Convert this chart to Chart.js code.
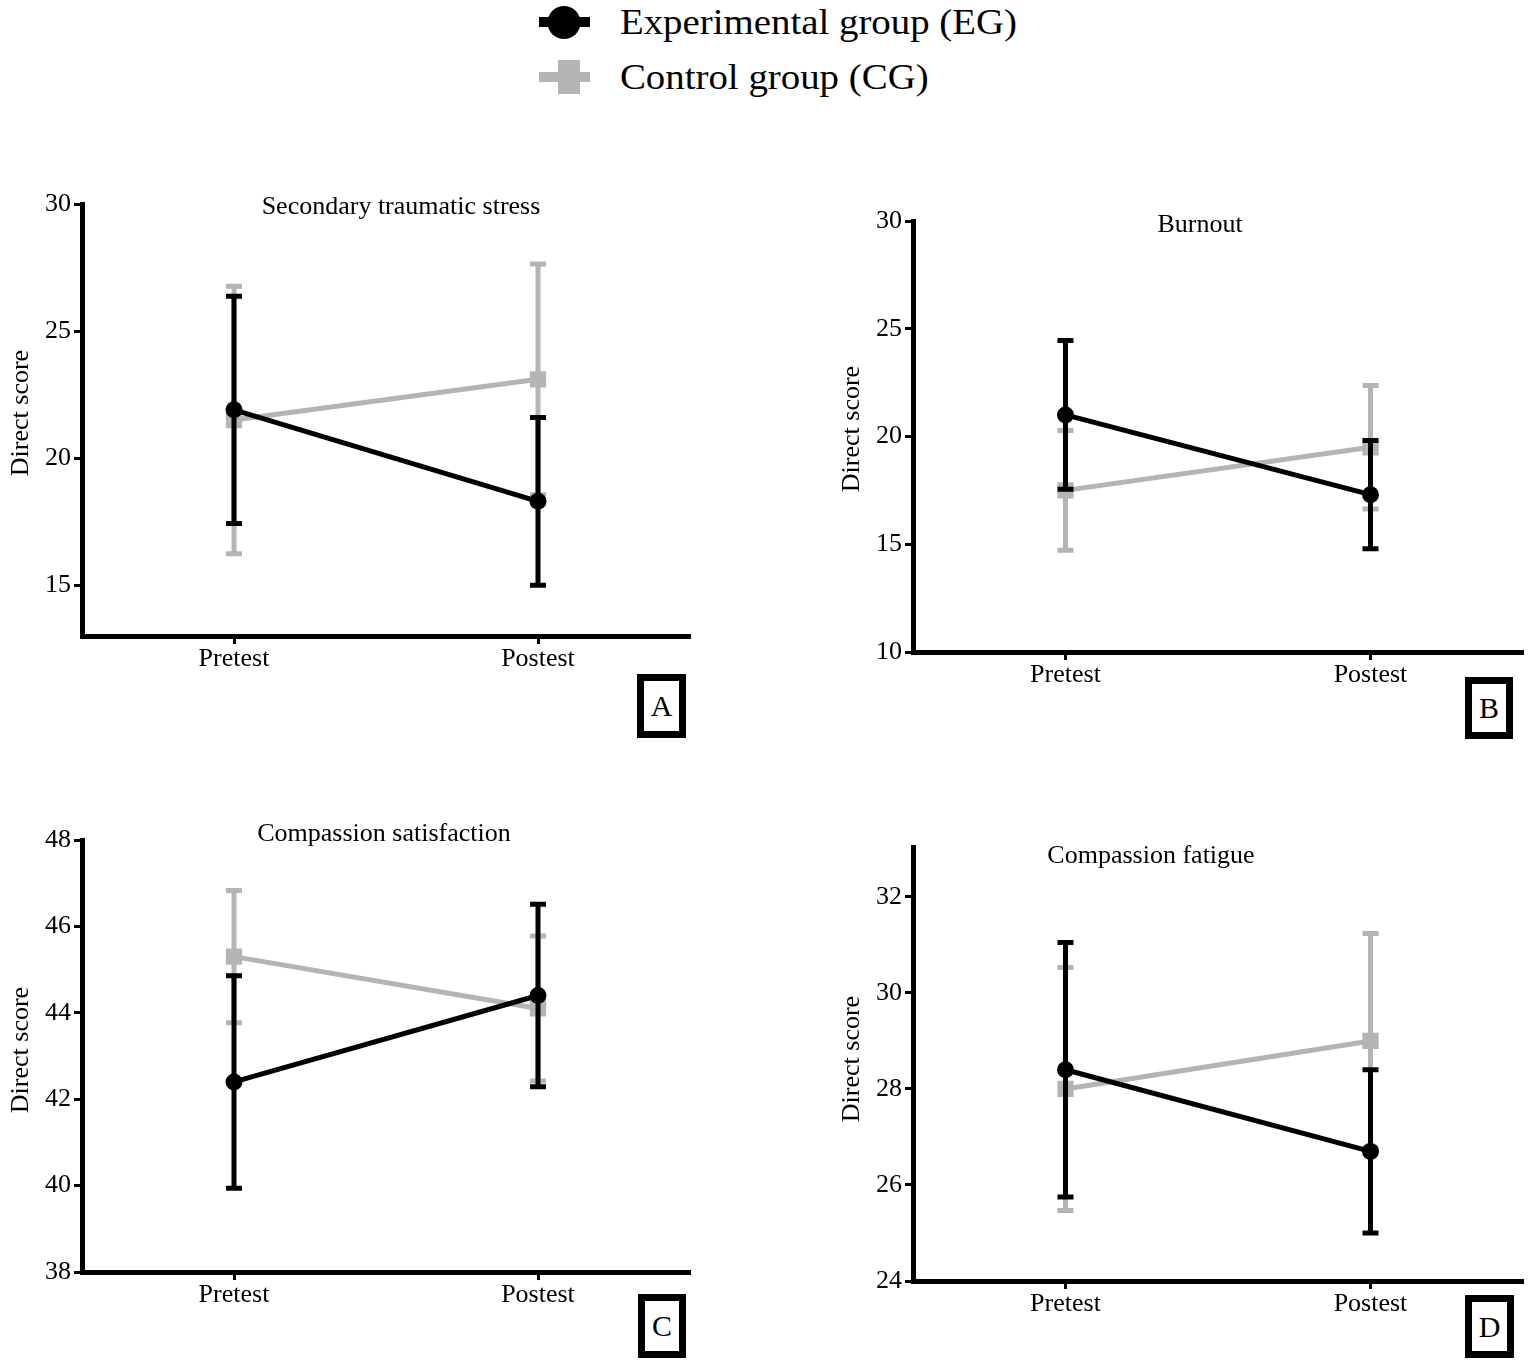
<!DOCTYPE html>
<html>
<head>
<meta charset="utf-8">
<script src="https://cdn.jsdelivr.net/npm/chart.js@4.4.1/dist/chart.umd.min.js"></script>
<style>
html,body{margin:0;padding:0;background:#fff;}
body{width:1535px;height:1369px;position:relative;overflow:hidden;font-family:"Liberation Serif","Times New Roman",serif;}
.cv{position:absolute;}
.tag{position:absolute;box-sizing:border-box;border:7px solid #000;background:#fff;font-size:30px;line-height:1;display:flex;align-items:center;justify-content:center;color:#000;}
#legend{position:absolute;left:0;top:0;}
</style>
</head>
<body>
<svg id="legend" width="1535" height="110" xmlns="http://www.w3.org/2000/svg">
  <rect x="539" y="17" width="51" height="10" fill="#000"/>
  <circle cx="564" cy="22.5" r="16.5" fill="#000"/>
  <rect x="539" y="72" width="51" height="10" fill="#b4b4b4"/>
  <rect x="558" y="60" width="22" height="34" fill="#b4b4b4"/>
  <g transform="scale(1.08,1)" font-family="Liberation Serif, Times New Roman, serif" font-size="36" fill="#000">
    <text id="lg0" x="574" y="34"></text>
    <text id="lg1" x="574" y="89"></text>
  </g>
</svg>

<div class="cv" style="left:0;top:180px;"><canvas id="cA" width="730" height="500"></canvas></div>
<div class="cv" style="left:830px;top:195px;"><canvas id="cB" width="705" height="500"></canvas></div>
<div class="cv" style="left:0;top:810px;"><canvas id="cC" width="730" height="505"></canvas></div>
<div class="cv" style="left:830px;top:820px;"><canvas id="cD" width="705" height="505"></canvas></div>

<div class="tag" style="left:637px;top:674px;width:49px;height:64px;">A</div>
<div class="tag" style="left:1465px;top:677px;width:48px;height:62px;">B</div>
<div class="tag" style="left:638px;top:1294px;width:48px;height:64px;">C</div>
<div class="tag" style="left:1465px;top:1295px;width:49px;height:63px;">D</div>

<script>
// ---------- data ----------
const timeLabels = ['Pretest', 'Postest'];
const seriesNames = ['Experimental group (EG)', 'Control group (CG)'];
const yAxisTitle = 'Direct score';

// A: Secondary traumatic stress
const stsTitle = 'Secondary traumatic stress';
const stsEG = [21.9, 18.3];
const stsEGsd = [4.47, 3.3];
const stsCG = [21.5, 23.1];
const stsCGsd = [5.26, 4.54];
const stsTicks = [15, 20, 25, 30];

// B: Burnout
const boTitle = 'Burnout';
const boEG = [21.0, 17.3];
const boEGsd = [3.45, 2.51];
const boCG = [17.5, 19.5];
const boCGsd = [2.78, 2.87];
const boTicks = [10, 15, 20, 25, 30];

// C: Compassion satisfaction
const csTitle = 'Compassion satisfaction';
const csEG = [42.4, 44.4];
const csEGsd = [2.46, 2.11];
const csCG = [45.3, 44.1];
const csCGsd = [1.53, 1.68];
const csTicks = [38, 40, 42, 44, 46, 48];

// D: Compassion fatigue
const cfTitle = 'Compassion fatigue';
const cfEG = [28.4, 26.7];
const cfEGsd = [2.65, 1.7];
const cfCG = [28.0, 29.0];
const cfCGsd = [2.53, 2.24];
const cfTicks = [24, 26, 28, 30, 32];

// ---------- styling ----------
const FONT = '"Liberation Serif", "Times New Roman", serif';
const EG_COLOR = '#000000';
const CG_COLOR = '#b4b4b4';

document.getElementById('lg0').textContent = seriesNames[0];
document.getElementById('lg1').textContent = seriesNames[1];

const errorBars = {
  id: 'errorBars',
  beforeDatasetDraw(chart, args, opts) {
    const ds = chart.data.datasets[args.index];
    if (!ds.errors) return;
    const ys = chart.scales.y;
    const ctx = chart.ctx;
    ctx.save();
    ctx.strokeStyle = ds.borderColor;
    ctx.lineWidth = opts.width;
    ctx.lineCap = 'butt';
    args.meta.data.forEach((pt, i) => {
      const m = ds.data[i], e = ds.errors[i];
      const x = pt.x;
      const yt = ys.getPixelForValue(m + e);
      const yb = ys.getPixelForValue(m - e);
      ctx.beginPath();
      ctx.moveTo(x, yt); ctx.lineTo(x, yb);
      ctx.moveTo(x - opts.cap, yt); ctx.lineTo(x + opts.cap, yt);
      ctx.moveTo(x - opts.cap, yb); ctx.lineTo(x + opts.cap, yb);
      ctx.stroke();
    });
    ctx.restore();
  }
};

const panelTitle = {
  id: 'panelTitle',
  afterDraw(chart, args, opts) {
    const ctx = chart.ctx;
    ctx.save();
    ctx.font = '26px ' + FONT;
    ctx.fillStyle = '#000';
    ctx.textAlign = 'center';
    ctx.textBaseline = 'middle';
    ctx.fillText(opts.text, opts.x, opts.y);
    ctx.translate(opts.ax, opts.ay);
    ctx.rotate(-Math.PI / 2);
    ctx.fillText(opts.axisText, 0, 0);
    ctx.restore();
  }
};

function makePanel(id, title, eg, egsd, cg, cgsd, ticks, ymin, ymax, L) {
  new Chart(document.getElementById(id), {
    type: 'line',
    data: {
      labels: timeLabels,
      datasets: [
        {
          label: seriesNames[0], data: eg, errors: egsd,
          borderColor: EG_COLOR, backgroundColor: EG_COLOR,
          borderWidth: 5, pointStyle: 'circle', pointRadius: 8.5,
          pointBorderWidth: 0, tension: 0, fill: false
        },
        {
          label: seriesNames[1], data: cg, errors: cgsd,
          borderColor: CG_COLOR, backgroundColor: CG_COLOR,
          borderWidth: 5, pointStyle: 'rect', pointRadius: 11.5,
          pointBorderWidth: 0, tension: 0, fill: false
        }
      ]
    },
    options: {
      responsive: false,
      animation: false,
      devicePixelRatio: 1,
      layout: { padding: { top: L.pt, right: L.pr, bottom: 0, left: 0 } },
      plugins: {
        legend: { display: false },
        tooltip: { enabled: false },
        errorBars: { width: 5, cap: 8 },
        panelTitle: { text: title, x: L.tx, y: L.ty, axisText: yAxisTitle, ax: L.ax, ay: L.ay }
      },
      scales: {
        x: {
          type: 'category',
          offset: true,
          grid: { display: true, drawOnChartArea: false, drawTicks: true, tickLength: 8, tickWidth: 3, tickColor: '#000', offset: false },
          border: { display: true, width: 5, color: '#000' },
          ticks: { color: '#000', font: { family: FONT, size: 26, lineHeight: 1 }, padding: 2, maxRotation: 0, autoSkip: false },
          afterFit(s) { s.height = L.xh; }
        },
        y: {
          type: 'linear',
          min: ymin, max: ymax,
          afterBuildTicks(s) { s.ticks = ticks.map(v => ({ value: v })); },
          grid: { display: true, drawOnChartArea: false, drawTicks: true, tickLength: 8, tickWidth: 3, tickColor: '#000' },
          border: { display: true, width: 5, color: '#000' },
          ticks: { color: '#000', font: { family: FONT, size: 26, lineHeight: 1 }, padding: 3 },
          title: { display: false },
          afterFit(s) { s.width = L.yw; }
        }
      }
    },
    plugins: [errorBars, panelTitle]
  });
}

makePanel('cA', stsTitle, stsEG, stsEGsd, stsCG, stsCGsd, stsTicks, 13, 30,
  { pt: 24, pr: 40, xh: 44, yw: 82, tx: 401, ty: 27, ax: 21, ay: 233 });
makePanel('cB', boTitle, boEG, boEGsd, boCG, boCGsd, boTicks, 10, 30,
  { pt: 26, pr: 12, xh: 43, yw: 83, tx: 370, ty: 30, ax: 22, ay: 234 });
makePanel('cC', csTitle, csEG, csEGsd, csCG, csCGsd, csTicks, 38, 48,
  { pt: 30, pr: 40, xh: 43, yw: 82, tx: 384, ty: 24, ax: 21, ay: 240 });
makePanel('cD', cfTitle, cfEG, cfEGsd, cfCG, cfCGsd, cfTicks, 24, 33.04,
  { pt: 27, pr: 12, xh: 44, yw: 83, tx: 321, ty: 36, ax: 22, ay: 239 });
</script>
</body>
</html>
